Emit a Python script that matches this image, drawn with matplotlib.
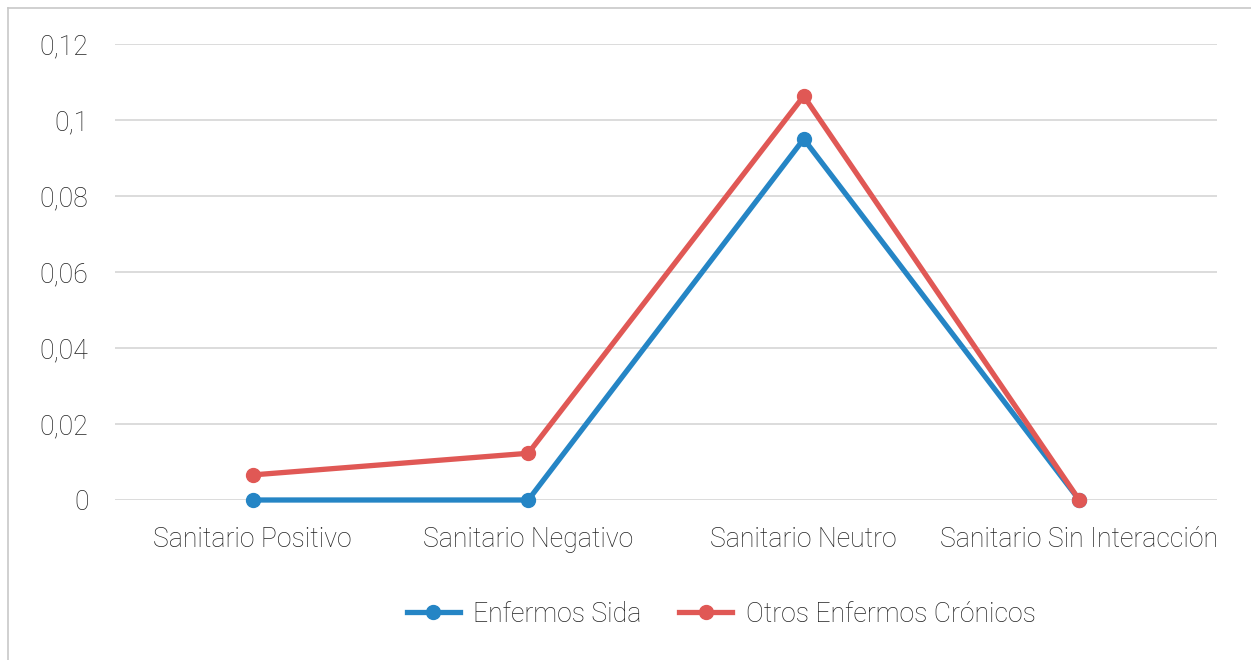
import matplotlib
matplotlib.use("Agg")
import matplotlib.pyplot as plt
from matplotlib.lines import Line2D

categories = ["Sanitario Positivo", "Sanitario Negativo", "Sanitario Neutro", "Sanitario Sin Interacción"]
enfermos_sida = [0.0, 0.0, 0.095, 0.0]
otros_cronicos = [0.0066, 0.0123, 0.1063, 0.0]
series_names = ["Enfermos Sida", "Otros Enfermos Crónicos"]
yticks = [0, 0.02, 0.04, 0.06, 0.08, 0.1, 0.12]
ytick_labels = ["0", "0,02", "0,04", "0,06", "0,08", "0,1", "0,12"]

blue = "#2585C5"
red = "#E05855"
text_color = "#222222"
grid_color = "#D9D9D9"
fsize = 19.2

plt.rcParams["font.family"] = ["Roboto", "DejaVu Sans"]
plt.rcParams["font.weight"] = "light"

W, H = 1251, 660
fig = plt.figure(figsize=(W / 100, H / 100), dpi=100)
ax = fig.add_axes([115 / W, 1 - 500 / H, (1217 - 115) / W, (500 - 44) / H])

x = list(range(len(categories)))
ax.plot(x, enfermos_sida, color=blue, lw=3.8, marker="o", ms=10,
        solid_capstyle="round", zorder=3, clip_on=False)
ax.plot(x, otros_cronicos, color=red, lw=3.8, marker="o", ms=10,
        solid_capstyle="round", zorder=4, clip_on=False)

ax.set_xlim(-0.5, len(categories) - 0.5)
ax.set_ylim(0, 0.12)
ax.set_yticks(yticks)
ax.set_yticklabels(ytick_labels)
ax.set_xticks(x)
ax.set_xticklabels(categories)
ax.tick_params(axis="both", length=0, labelsize=fsize, colors=text_color, labelcolor=text_color)
ax.tick_params(axis="y", pad=19)
ax.tick_params(axis="x", pad=19)
for lbl in ax.get_xticklabels() + ax.get_yticklabels():
    lbl.set_fontweight("light")

ax.grid(axis="y", color=grid_color, lw=1.3)
ax.set_axisbelow(True)
for s in ax.spines.values():
    s.set_visible(False)

handles = [Line2D([0], [0], color=blue, lw=3.8, marker="o", ms=10),
           Line2D([0], [0], color=red, lw=3.8, marker="o", ms=10)]
leg = fig.legend(handles, series_names, loc="center", bbox_to_anchor=(721 / W, 1 - 614 / H),
                 ncol=2, frameon=False, fontsize=fsize, handlelength=2.0,
                 columnspacing=1.4, handletextpad=0.5)
for t in leg.get_texts():
    t.set_color(text_color)
    t.set_fontweight("light")

# thin frame along the top and left edge
fig.add_artist(Line2D([8 / W, 8 / W], [0, 1 - 8 / H], transform=fig.transFigure,
                      color="#C8C8C8", lw=1.2))
fig.add_artist(Line2D([8 / W, 1], [1 - 8 / H, 1 - 8 / H], transform=fig.transFigure,
                      color="#C8C8C8", lw=1.2))

fig.savefig("out.png", dpi=100)
